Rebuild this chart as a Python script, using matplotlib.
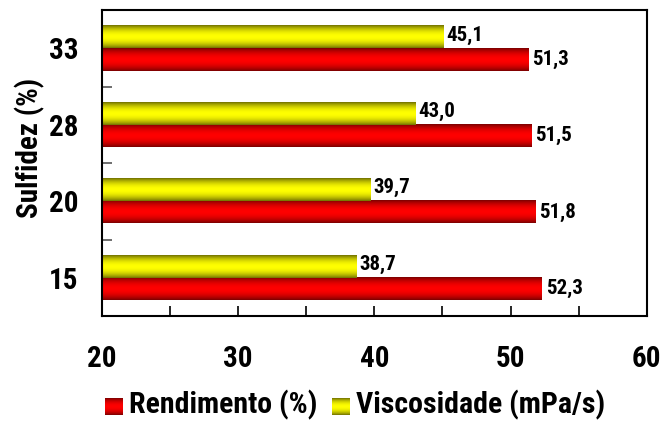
import numpy as np
import matplotlib.pyplot as plt
from matplotlib import font_manager

sulfidez = ["15", "20", "28", "33"]
rendimento = [52.3, 51.8, 51.5, 51.3]
viscosidade = [38.7, 39.7, 43.0, 45.1]


def is_bold(w):
    if isinstance(w, str):
        return w in ("bold", "heavy", "extra bold", "black", "semibold", "demibold")
    return w >= 600


# narrow bold sans, falling back to a regular width one
bold_fams = {f.name for f in font_manager.fontManager.ttflist if is_bold(f.weight)}
for cand in ["Liberation Sans Narrow", "Arial Narrow", "Archivo Narrow", "Roboto Condensed",
             "PT Sans Narrow", "Pragati Narrow", "Fira Sans Condensed", "IBM Plex Sans Condensed",
             "Asap Condensed", "Barlow Semi Condensed", "Encode Sans Condensed",
             "Sofia Sans Condensed", "Liberation Sans"]:
    if cand in bold_fams:
        break
plt.rcParams["font.family"] = [cand, "DejaVu Sans"]
plt.rcParams["font.weight"] = "bold"


def shade(dark, bright, n=64):
    # vertical cylinder-like gradient: dark edges, bright middle
    t = np.linspace(0, 1, n)
    w = np.sin(np.pi * t) ** 0.8
    dark = np.array(dark) / 255.0
    bright = np.array(bright) / 255.0
    return (dark[None, :] + (bright - dark)[None, :] * w[:, None])[:, None, :]


RED = shade((120, 0, 0), (255, 0, 0))
YEL = shade((110, 110, 0), (255, 255, 0))

fig = plt.figure(figsize=(6.62, 4.23), dpi=100)
ax = fig.add_axes([0.154, 0.253, 0.823, 0.723])

y = np.arange(len(sulfidez))
h = 0.29
x0 = 20
for i in y:
    yb = i - h
    ax.imshow(RED, extent=[x0, rendimento[i], yb, yb + h], aspect="auto",
              origin="lower", interpolation="bilinear", zorder=2)
    ax.text(rendimento[i] + 0.3, yb + h / 2, f"{rendimento[i]:.1f}".replace(".", ","),
            va="center", ha="left", fontsize=15, fontweight="bold")
    yt = i
    ax.imshow(YEL, extent=[x0, viscosidade[i], yt, yt + h], aspect="auto",
              origin="lower", interpolation="bilinear", zorder=2)
    ax.text(viscosidade[i] + 0.2, yt + h / 2 + 0.03, f"{viscosidade[i]:.1f}".replace(".", ","),
            va="center", ha="left", fontsize=15, fontweight="bold")

ax.set_xlim(20, 60)
ax.set_ylim(-0.5, len(sulfidez) - 0.5)
ax.set_xticks(np.arange(20, 61, 5))
ax.set_xticklabels([str(v) if v % 10 == 0 else "" for v in range(20, 61, 5)])
ax.set_yticks(y)
ax.set_yticklabels(sulfidez)
ax.set_yticks(np.arange(-0.5, len(sulfidez), 1), minor=True)
ax.tick_params(axis="y", which="major", length=0, pad=17, labelsize=21)
ax.tick_params(axis="y", which="minor", direction="in", length=7, width=1.2, color="#555555")
ax.tick_params(axis="x", direction="in", length=7, width=1.2, pad=21, labelsize=21)
for s in ax.spines.values():
    s.set_linewidth(1.5)
fig.text(0.045, 0.65, "Sulfidez (%)", rotation=90, fontsize=21, fontweight="bold",
         va="center", ha="center")

# legend with shaded swatches
for xs, img, label in [(0.159, RED, "Rendimento (%)"), (0.502, YEL, "Viscosidade (mPa/s)")]:
    sw = fig.add_axes([xs, 0.02, 0.026, 0.04])
    sw.imshow(img, aspect="auto", interpolation="bilinear")
    sw.axis("off")
    fig.text(xs + 0.036, 0.043, label, fontsize=21.5, fontweight="bold", va="center", ha="left")

fig.savefig("out.png", dpi=100)
